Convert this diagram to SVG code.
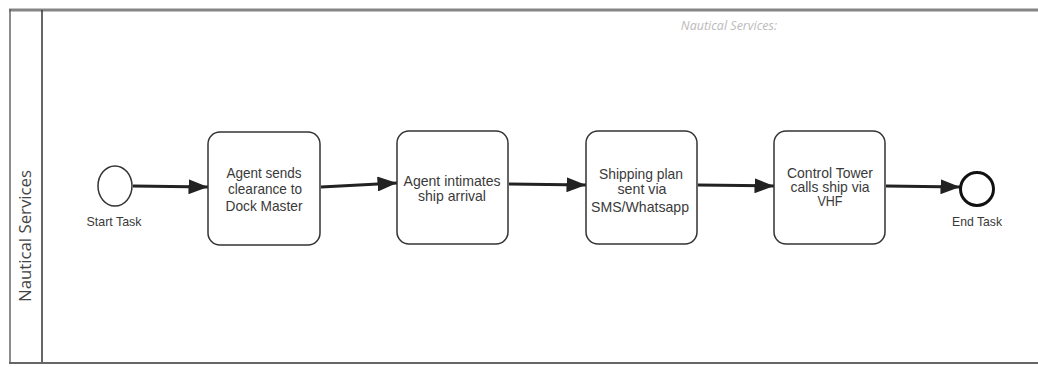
<svg xmlns="http://www.w3.org/2000/svg" width="1038" height="367" viewBox="0 0 1038 367">
<defs>
<style>
.task{fill:#fff;stroke:#333;stroke-width:1.5}
.lbl{font-family:"Liberation Sans",Arial,sans-serif;font-size:14.5px;fill:#3a3a3a;text-anchor:middle}
.ev{font-family:"Liberation Sans",Arial,sans-serif;font-size:13px;fill:#3a3a3a;text-anchor:middle}
.flow{stroke:#222;stroke-width:3;fill:none;marker-end:url(#ah)}
</style>
<marker id="ah" viewBox="0 0 10 10" refX="10" refY="5" markerWidth="6.5" markerHeight="5" markerUnits="strokeWidth" orient="auto" preserveAspectRatio="none">
<path d="M0,0 L10,5 L0,10 z" fill="#222"/>
</marker>
</defs>
<rect width="1038" height="367" fill="#fff"/>
<g id="pool">
<line x1="9" y1="10" x2="1038" y2="10" stroke="#858585" stroke-width="3"/>
<line x1="10" y1="9" x2="10" y2="364" stroke="#666" stroke-width="1.5"/>
<line x1="42" y1="10" x2="42" y2="364" stroke="#333" stroke-width="1.5"/>
<line x1="9" y1="363" x2="1038" y2="363" stroke="#666" stroke-width="2"/>
<text x="25" y="236" transform="rotate(-90 25 236)" font-family="'Open Sans','Liberation Sans',sans-serif" font-size="16" fill="#444" text-anchor="middle" dominant-baseline="central" textLength="132" lengthAdjust="spacingAndGlyphs">Nautical Services</text>
<text x="729" y="30" font-family="'Open Sans','Liberation Sans',sans-serif" font-size="12.5" font-style="italic" fill="#bbb" text-anchor="middle">Nautical Services:</text>
</g>
<g id="connectors">
<line class="flow" x1="133" y1="186" x2="208" y2="187"/>
<line class="flow" x1="321" y1="187" x2="397" y2="183"/>
<line class="flow" x1="509" y1="184" x2="586" y2="185"/>
<line class="flow" x1="698" y1="185" x2="774" y2="186"/>
<line class="flow" x1="886" y1="186" x2="960" y2="187"/>
</g>
<g id="start">
<ellipse cx="115" cy="186" rx="17" ry="20" fill="#fff" stroke="#333" stroke-width="1.5"/>
<text class="ev" x="114" y="226" textLength="55" lengthAdjust="spacingAndGlyphs">Start Task</text>
</g>
<g id="task1">
<rect class="task" x="208" y="132" width="112" height="113" rx="12"/>
<text class="lbl" x="264" y="178" textLength="75" lengthAdjust="spacingAndGlyphs">Agent sends</text>
<text class="lbl" x="265" y="194" textLength="74" lengthAdjust="spacingAndGlyphs">clearance to</text>
<text class="lbl" x="264" y="211" textLength="77" lengthAdjust="spacingAndGlyphs">Dock Master</text>
</g>
<g id="task2">
<rect class="task" x="397" y="131" width="111" height="113" rx="12"/>
<text class="lbl" x="452" y="186" textLength="97" lengthAdjust="spacingAndGlyphs">Agent intimates</text>
<text class="lbl" x="452" y="201" textLength="68" lengthAdjust="spacingAndGlyphs">ship arrival</text>
</g>
<g id="task3">
<rect class="task" x="586" y="131" width="111" height="113" rx="12"/>
<text class="lbl" x="641" y="179" textLength="84" lengthAdjust="spacingAndGlyphs">Shipping plan</text>
<text class="lbl" x="642" y="194" font-size="13" textLength="49" lengthAdjust="spacingAndGlyphs">sent via</text>
<text class="lbl" x="640" y="212" textLength="98" lengthAdjust="spacingAndGlyphs">SMS/Whatsapp</text>
</g>
<g id="task4">
<rect class="task" x="774" y="131" width="111" height="113" rx="12"/>
<text class="lbl" x="830" y="178" textLength="86" lengthAdjust="spacingAndGlyphs">Control Tower</text>
<text class="lbl" x="830" y="192" textLength="79" lengthAdjust="spacingAndGlyphs">calls ship via</text>
<text class="lbl" x="830" y="206" textLength="25" lengthAdjust="spacingAndGlyphs">VHF</text>
</g>
<g id="end">
<circle cx="977" cy="189" r="16.5" fill="#fff" stroke="#111" stroke-width="3"/>
<text class="ev" x="977" y="226" textLength="50" lengthAdjust="spacingAndGlyphs">End Task</text>
</g>
</svg>
